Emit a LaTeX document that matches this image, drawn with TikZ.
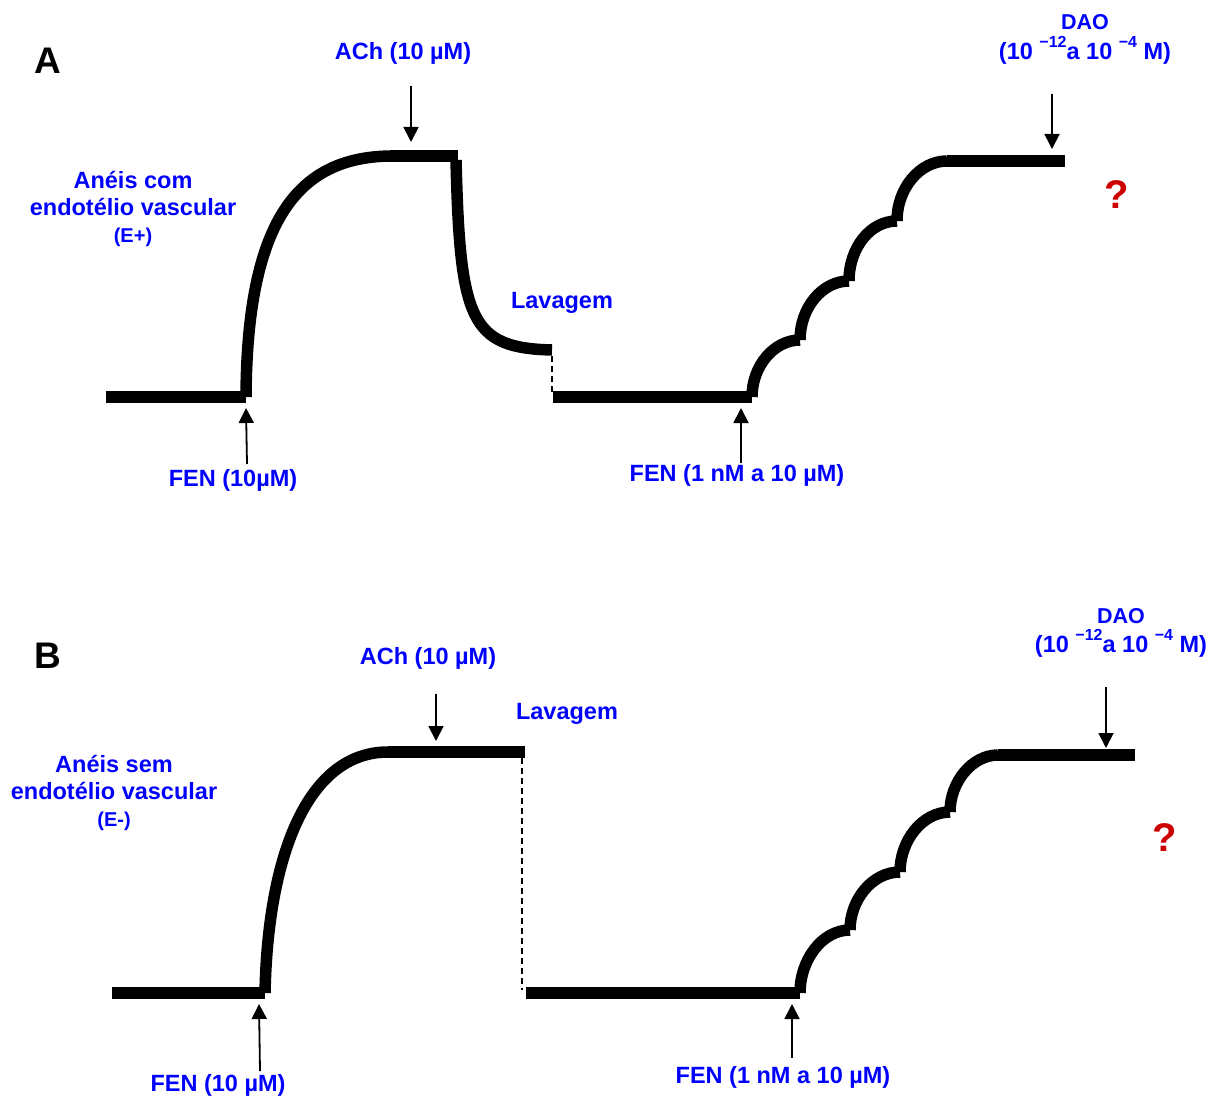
\documentclass[tikz,border=0pt]{standalone}
\usepackage{fontspec}
\setmainfont{Liberation Sans}
\usetikzlibrary{arrows.meta}
\definecolor{labelblue}{RGB}{0,0,255}
\definecolor{qred}{RGB}{204,0,0}
\newcommand{\supx}[1]{\raisebox{0.5em}{\fontsize{16}{16}\selectfont #1}}
\begin{document}
\begin{tikzpicture}[x=1pt,y=-1pt,
  trace/.style={line width=11.5pt},
  lbl/.style={text=labelblue, font=\fontsize{23.5}{27}\selectfont\bfseries, inner sep=0pt, align=center},
  small/.style={lbl, font=\fontsize{21.5}{24}\selectfont\bfseries},
  arr/.style={line width=1.8pt, -{Triangle[length=15pt,width=15pt]}},
  wash/.style={line width=1.3pt, dash pattern=on 6pt off 4pt},
  qmark/.style={text=qred, font=\fontsize{40}{42}\selectfont\bfseries, inner sep=0pt},
  panel/.style={font=\fontsize{37}{38}\selectfont\bfseries, inner sep=0pt}]
\useasboundingbox (0,0) rectangle (1226,1097);

% ---------------- Panel A ----------------
\node[panel] (A) at (48,61) {A};
\node[lbl] (achA) at (403,53) {ACh (10 µM)};
\node[lbl] (ringA) at (133,209) {Anéis com\\endotélio vascular\\{\fontsize{20}{24}\selectfont (E+)}};
\node[lbl] (lavA) at (562,303) {Lavagem};
\node[lbl] (fenA1) at (233,480) {FEN (10µM)};
\node[lbl] (fenA2) at (737,475) {FEN (1 nM a 10 µM)};
\node[small] (daoA) at (1085,22) {DAO};
\node[lbl] (daoAc) at (1085,50) {(10 \supx{−12}a 10 \supx{−4} M)};
\node[qmark] (qA) at (1117,195) {?};

\coordinate (a0) at (106,397);
\coordinate (a1) at (246,397);
\coordinate (a2) at (393,156);
\coordinate (a3) at (458,156);
\coordinate (a4) at (456,160);
\coordinate (a5) at (552,350);
\coordinate (a6) at (552,356);
\coordinate (a7) at (552,392);
\coordinate (a8) at (553,397);
\coordinate (a9) at (752,397);
\coordinate (s1) at (800,340);
\coordinate (s2) at (849,281);
\coordinate (s3) at (897,221);
\coordinate (s4) at (947,161);
\coordinate (a10) at (1065,161);

\draw[trace] (a0) -- (a1);
\draw[trace] (a1) .. controls (247,220) and (298,156) .. (a2);
\draw[trace] (390,156) -- (a3);
\draw[trace] (a4) .. controls (460,320) and (470,348) .. (a5);
\draw[wash] (a6) -- (a7);
\draw[trace] (a8) -- (a9);
\draw[trace] (a9) .. controls (752,366) and (774,340) .. (s1);
\draw[trace] (s1) .. controls (800,308) and (822,281) .. (s2);
\draw[trace] (s2) .. controls (849,248) and (870,221) .. (s3);
\draw[trace] (s3) .. controls (897,188) and (920,161) .. (s4);
\draw[trace] (s4) -- (a10);

\coordinate (achAs) at (411,86);
\coordinate (achAe) at (411,142);
\draw[arr] (achAs) -- (achAe);
\coordinate (fenA1s) at (247,464);
\coordinate (fenA1e) at (246,408);
\draw[arr] (fenA1s) -- (fenA1e);
\coordinate (fenA2s) at (741,463);
\coordinate (fenA2e) at (741,408);
\draw[arr] (fenA2s) -- (fenA2e);
\coordinate (daoAs) at (1052,94);
\coordinate (daoAe) at (1052,149);
\draw[arr] (daoAs) -- (daoAe);

% ---------------- Panel B ----------------
\node[panel] (B) at (48,656) {B};
\node[lbl] (achB) at (428,658) {ACh (10 µM)};
\node[lbl] (lavB) at (567,714) {Lavagem};
\node[lbl] (ringB) at (114,793) {Anéis sem\\endotélio vascular\\{\fontsize{20}{24}\selectfont (E-)}};
\node[lbl] (fenB1) at (218,1085) {FEN (10 µM)};
\node[lbl] (fenB2) at (783,1077) {FEN (1 nM a 10 µM)};
\node[small] (daoB) at (1121,616) {DAO};
\node[lbl] (daoBc) at (1121,643) {(10 \supx{−12}a 10 \supx{−4} M)};
\node[qmark] (qB) at (1165,838) {?};

\coordinate (b0) at (112,993);
\coordinate (b1) at (265,993);
\coordinate (b2) at (388,752);
\coordinate (b3) at (525,752);
\coordinate (b4) at (522,758);
\coordinate (b5) at (522,990);
\coordinate (b6) at (526,993);
\coordinate (b7) at (800,993);
\coordinate (t1) at (850,930);
\coordinate (t2) at (900,872);
\coordinate (t3) at (950,812);
\coordinate (t4) at (998,755);
\coordinate (b8) at (1135,755);

\draw[trace] (b0) -- (b1);
\draw[trace] (b1) .. controls (268,850) and (310,752) .. (b2);
\draw[trace] (b2) -- (b3);
\draw[wash] (b4) -- (b5);
\draw[trace] (b6) -- (b7);
\draw[trace] (b7) .. controls (800,960) and (822,930) .. (t1);
\draw[trace] (t1) .. controls (850,900) and (872,872) .. (t2);
\draw[trace] (t2) .. controls (900,841) and (922,812) .. (t3);
\draw[trace] (t3) .. controls (950,782) and (972,755) .. (t4);
\draw[trace] (t4) -- (b8);

\coordinate (achBs) at (436,694);
\coordinate (achBe) at (436,741);
\draw[arr] (achBs) -- (achBe);
\coordinate (fenB1s) at (260,1071);
\coordinate (fenB1e) at (259,1004);
\draw[arr] (fenB1s) -- (fenB1e);
\coordinate (fenB2s) at (792,1058);
\coordinate (fenB2e) at (792,1004);
\draw[arr] (fenB2s) -- (fenB2e);
\coordinate (daoBs) at (1106,687);
\coordinate (daoBe) at (1106,748);
\draw[arr] (daoBs) -- (daoBe);
\end{tikzpicture}
\end{document}
